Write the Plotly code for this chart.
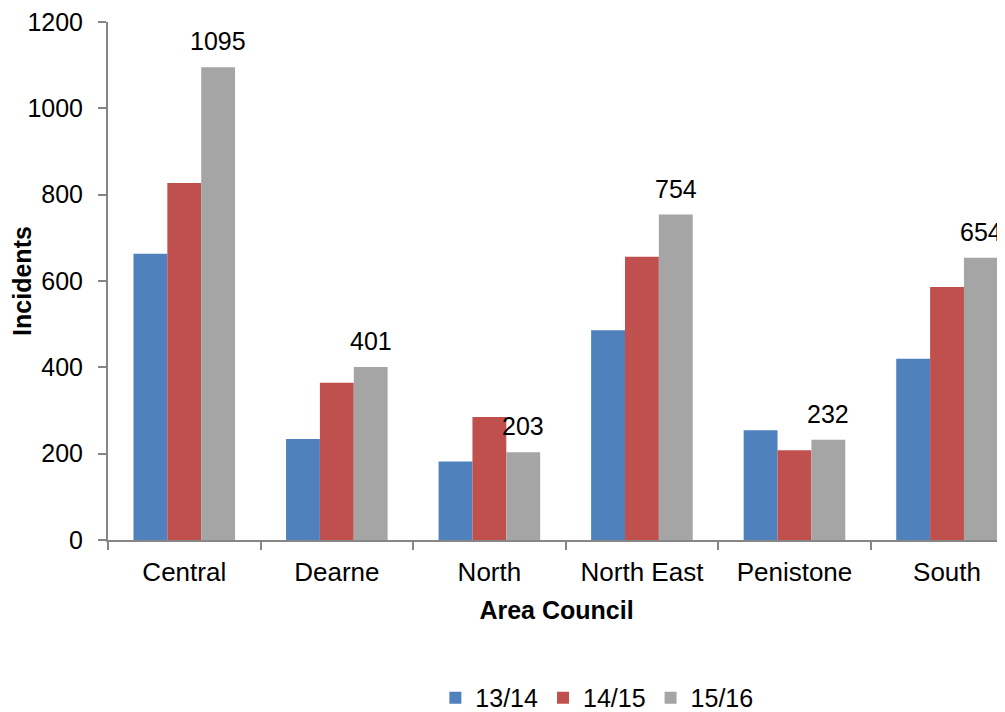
import plotly.graph_objects as go

categories = ["Central", "Dearne", "North", "North East", "Penistone", "South"]
s1314 = [663, 234, 182, 486, 254, 420]
s1415 = [827, 364, 285, 656, 208, 586]
s1516 = [1095, 401, 203, 754, 232, 654]
series_names = ["13/14", "14/15", "15/16"]
colors = ["#4F81BD", "#C0504D", "#A5A5A5"]

FONT = "Liberation Sans, Arial, sans-serif"
FS = 25

fig = go.Figure()
for name, vals, col in zip(series_names, [s1314, s1415, s1516], colors):
    fig.add_trace(go.Bar(x=categories, y=vals, name=name, marker=dict(color=col, line=dict(width=0))))

# data labels on 15/16 series
for cat, v in zip(categories, s1516):
    fig.add_annotation(x=cat, y=v, text=str(v), showarrow=False, xshift=34, yshift=10,
                       yanchor="bottom", font=dict(family=FONT, size=FS, color="#000000"))

fig.update_layout(
    width=997, height=704,
    margin=dict(l=100, r=0, t=14, b=172, autoexpand=False),
    paper_bgcolor="white", plot_bgcolor="white",
    barmode="group", bargap=0.334, bargroupgap=0,
    font=dict(family=FONT, size=FS, color="#000000"),
    showlegend=True,
    legend=dict(orientation="h", x=0.545, xanchor="center", y=-0.305, yanchor="middle",
                font=dict(family=FONT, size=FS), itemwidth=30, traceorder="normal"),
    xaxis=dict(range=[-0.5, 5.38], showline=True, linecolor="#868686", linewidth=2, automargin=False,
               ticks="outside", tickson="boundaries", ticklen=8, tickcolor="#868686", tickwidth=2,
               tickfont=dict(family=FONT, size=26), showgrid=False, ticklabelstandoff=8,
               title=dict(text="<b>Area Council</b>", font=dict(family=FONT, size=FS), standoff=15)),
    yaxis=dict(range=[0, 1200], tickvals=[0, 200, 400, 600, 800, 1000, 1200], automargin=False,
               showline=True, linecolor="#868686", linewidth=2, ticklabeloverflow="allow",
               ticks="outside", ticklen=8, tickcolor="#868686", tickwidth=2, ticklabelstandoff=10,
               tickfont=dict(family=FONT, size=FS), showgrid=False, zeroline=False,
               title=dict(text="<b>Incidents</b>", font=dict(family=FONT, size=FS), standoff=6)),
)

fig.write_html("out.html")
